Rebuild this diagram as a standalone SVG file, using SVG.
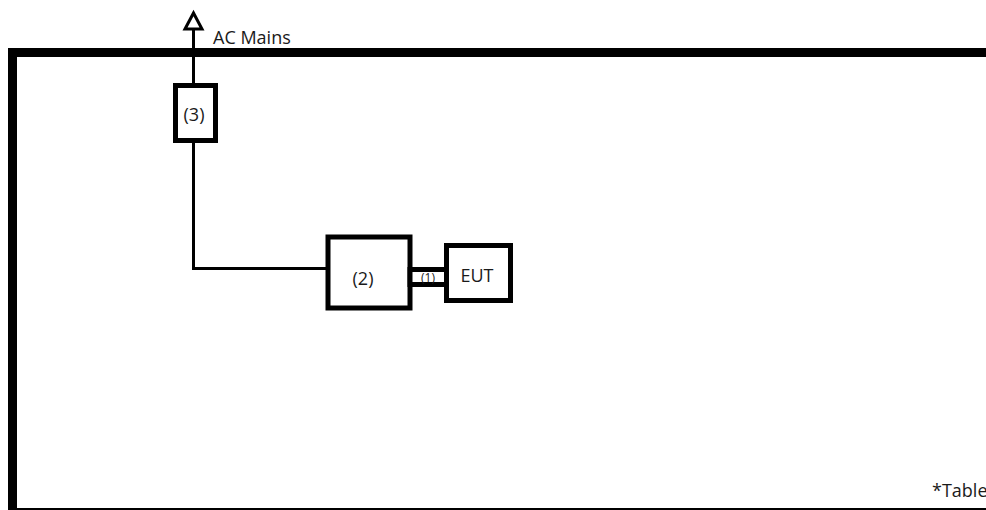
<svg xmlns="http://www.w3.org/2000/svg" width="986" height="510" viewBox="0 0 986 510">
<style>
.box{fill:#fff;stroke:#000;stroke-width:5}
.wire{fill:none;stroke:#000;stroke-width:3}
text{font-family:"Open Sans","Noto Sans","Liberation Sans",sans-serif;fill:#1a1a1a;font-size:18px}
</style>
<rect id="table" x="12.5" y="52.5" width="990" height="460" fill="none" stroke="#000" stroke-width="9"/>
<g id="connectors">
<path class="wire" d="M193.5 28 V268.5 H328"/>
<path d="M185 29 L193.5 13 L202 29 Z" fill="#fff" stroke="#000" stroke-width="3" stroke-linejoin="miter"/>
</g>
<g id="n3">
<rect class="box" x="175.5" y="85.5" width="40" height="55"/>
<text x="194" y="121" text-anchor="middle">(3)</text>
</g>
<g id="n2">
<rect class="box" x="328" y="237" width="82" height="71"/>
<text x="363" y="285" text-anchor="middle">(2)</text>
</g>
<g id="n1">
<rect class="box" x="410" y="269.5" width="37" height="15"/>
<text x="428" y="281.5" style="font-size:12px" text-anchor="middle">(1)</text>
</g>
<g id="eut">
<rect class="box" x="446.5" y="245.5" width="64" height="55"/>
<text x="477" y="282" text-anchor="middle">EUT</text>
</g>
<text x="213" y="43.5">AC Mains</text>
<text x="932" y="497">*Table</text>
</svg>
